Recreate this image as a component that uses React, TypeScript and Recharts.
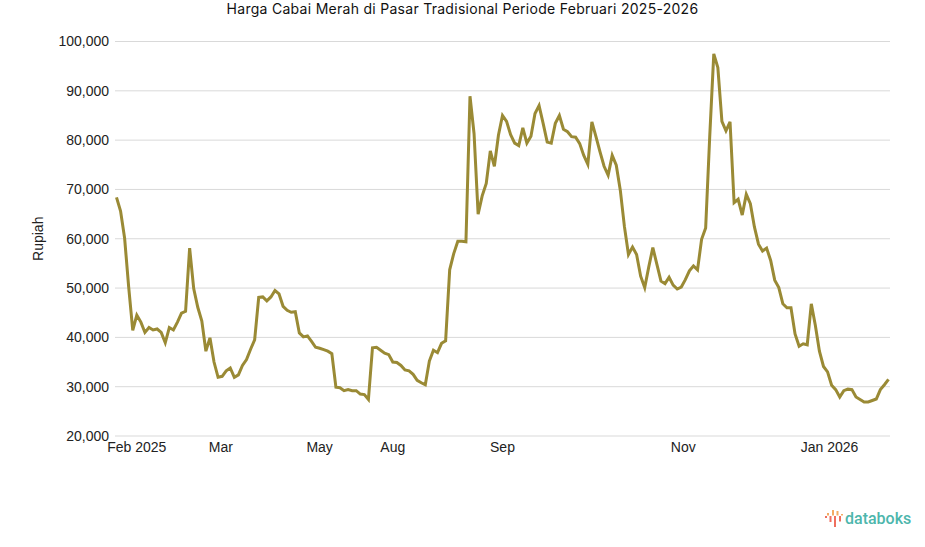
import { LineChart, Line, XAxis, YAxis, CartesianGrid } from "recharts";

const prices = [
  68400, 65600, 60100, 50200, 41400, 44500, 43100, 41000, 42000, 41500,
  41700, 41000, 38900, 42000, 41500, 43100, 44900, 45300, 58100, 49900,
  46100, 43300, 37200, 39900, 35000, 31900, 32100, 33200, 33800, 31900,
  32400, 34300, 35500, 37600, 39500, 48100, 48200, 47400, 48200, 49500,
  48800, 46300, 45500, 45100, 45200, 40900, 40100, 40300, 39200, 38000,
  37800, 37500, 37200, 36700, 29900, 29800, 29200, 29400, 29200, 29200,
  28500, 28400, 27400, 37900, 38000, 37400, 36800, 36500, 35000, 34900,
  34300, 33400, 33200, 32500, 31300, 30800, 30400, 35200, 37400, 36900,
  38800, 39300, 53700, 57000, 59500, 59500, 59400, 88900, 81300, 65000,
  68700, 71200, 77800, 74700, 81000, 85000, 83800, 81100, 79400, 78900,
  82500, 79400, 80800, 85400, 87000, 83400, 79600, 79400, 83400, 85000,
  82200, 81700, 80700, 80600, 79300, 76900, 75100, 83700, 80700, 77600,
  74700, 72900, 76900, 74900, 69800, 62500, 56800, 58300, 56800, 52400,
  50100, 54300, 58200, 54800, 51400, 50900, 52200, 50600, 49800, 50200,
  51700, 53500, 54500, 53700, 59900, 62200, 80700, 97500, 94700, 83800,
  81900, 83700, 67300, 68000, 64800, 69000, 67100, 62400, 58900, 57500,
  58100, 55600, 51600, 50100, 46800, 46000, 46000, 40700, 38200, 38700,
  38500, 46800, 42400, 37200, 34100, 33000, 30300, 29400, 27900, 29200,
  29500, 29400, 27900, 27400, 26900, 26900, 27200, 27500, 29400, 30400,
  31500,
];

const monthTicks = [5, 25.7, 50, 68, 95, 139.5, 175.5];
const monthLabels = ["Feb 2025", "Mar", "May", "Aug", "Sep", "Nov", "Jan 2026"];
const yTicks = [20000, 30000, 40000, 50000, 60000, 70000, 80000, 90000, 100000];

const chartData = prices.map((price, i) => ({ i, price }));

const font = '"Liberation Sans", Arial, sans-serif';

// logo glyph: orange bars above the line, red ones below
function LogoMark() {
  const red = "#ef6f5e";
  const orange = "#f4ab63";
  return (
    <svg width={20} height={20} style={{ position: "absolute", left: 824, top: 509 }}>
      <rect x={1} y={7} width={2} height={2} fill={red} />
      <rect x={3} y={4} width={2} height={2.5} fill={orange} />
      <rect x={5.5} y={7} width={2} height={6} fill={red} />
      <rect x={8} y={1} width={2} height={5.5} fill={orange} />
      <rect x={10} y={7} width={2} height={11} fill={red} />
      <rect x={12.5} y={2} width={2} height={4.5} fill={orange} />
      <rect x={15} y={7} width={2} height={5.5} fill={red} />
      <rect x={17} y={5} width={2} height={1.5} fill={orange} />
    </svg>
  );
}

export default function App() {
  return (
    <div style={{ position: "absolute", left: 0, top: 0, width: 925, height: 547, background: "#fff", fontFamily: font }}>
      <div style={{ position: "absolute", left: 0, top: 0, width: 925, textAlign: "center", fontSize: 14, lineHeight: "17px", color: "#111", letterSpacing: 0.28, fontFamily: "Inter, sans-serif" }}>
        Harga Cabai Merah di Pasar Tradisional Periode Februari 2025-2026
      </div>

      <LineChart
        width={925}
        height={547}
        data={chartData}
        margin={{ top: 41.5, right: 35, bottom: 81, left: 25 }}
      >
        <CartesianGrid vertical={false} stroke="#d9d9d9" strokeWidth={1} />
        <XAxis
          dataKey="i"
          type="number"
          domain={[0, 190]}
          ticks={monthTicks}
          tickFormatter={(v: number) => monthLabels[monthTicks.indexOf(v)]}
          axisLine={false}
          tickLine={false}
          interval={0}
          height={30}
          tickMargin={0}
          padding={{ left: 1.5, right: 1.5 }}
          tick={{ fontSize: 14, fill: "#222", fontFamily: font }}
        />
        <YAxis
          type="number"
          domain={[20000, 100000]}
          ticks={yTicks}
          tickFormatter={(v: number) => v.toLocaleString("en-US")}
          axisLine={false}
          tickLine={false}
          width={90}
          tickMargin={0}
          tick={{ fontSize: 14, fill: "#222", fontFamily: font }}
          label={{ value: "Rupiah", angle: -90, position: "insideLeft", offset: 13, style: { fontSize: 14, fill: "#222", fontFamily: font, textAnchor: "middle" } }}
        />
        <Line
          dataKey="price"
          type="linear"
          stroke="#9a8a35"
          strokeWidth={3}
          dot={false}
          isAnimationActive={false}
        />
      </LineChart>

      <LogoMark />
      <div style={{ position: "absolute", left: 845, top: 510, fontSize: 16, lineHeight: "18px", fontWeight: 500, color: "#4db6ac", fontFamily: "Roboto, sans-serif" }}>
        databoks
      </div>
    </div>
  );
}
